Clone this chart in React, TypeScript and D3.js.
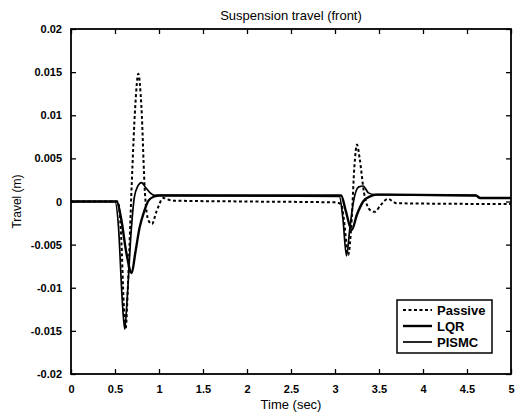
import { useEffect, useRef } from "react";
import * as d3 from "d3";

// time (sec) / travel (m) pairs
const passiveT = [0, 0.53, 0.57, 0.6, 0.62, 0.65, 0.69, 0.73, 0.765, 0.8, 0.84, 0.88, 0.92, 0.97, 1.05, 1.15, 2.0, 3.0, 3.07, 3.1, 3.15, 3.19, 3.22, 3.25, 3.28, 3.33, 3.4, 3.45, 3.52, 3.6, 3.7, 5];
const passiveV = [0, 0, -0.004, -0.012, -0.0148, -0.009, 0.002, 0.011, 0.0148, 0.011, 0.001, -0.0022, -0.0026, -0.0012, 0.0004, 0.0001, 0, -0.0001, -0.0003, -0.002, -0.0062, -0.002, 0.004, 0.0066, 0.005, 0.001, -0.001, -0.0012, -0.0004, 0.0003, -0.0002, -0.0003];

const lqrT = [0, 0.52, 0.57, 0.63, 0.69, 0.73, 0.78, 0.83, 0.88, 0.95, 1.0, 3.07, 3.12, 3.19, 3.25, 3.32, 3.4, 3.47, 4.6, 4.65, 5];
const lqrV = [0, 0, -0.002, -0.006, -0.0083, -0.006, -0.003, -0.0012, 0.0001, 0.0006, 0.0007, 0.0007, -0.001, -0.0033, -0.0015, 0, 0.0006, 0.0008, 0.0007, 0.0004, 0.0004];

const pismcT = [0, 0.5, 0.54, 0.58, 0.61, 0.64, 0.68, 0.72, 0.76, 0.8, 0.85, 0.9, 0.95, 1.1, 3.05, 3.09, 3.13, 3.17, 3.21, 3.27, 3.32, 3.38, 3.45, 4.6, 4.65, 5];
const pismcV = [0, 0, -0.003, -0.011, -0.0148, -0.011, -0.004, 0.0005, 0.0018, 0.0022, 0.0016, 0.001, 0.0007, 0.0007, 0.0006, -0.002, -0.0063, -0.003, 0, 0.0017, 0.0018, 0.001, 0.0008, 0.0007, 0.0004, 0.0004];

const xTicks = [0, 0.5, 1, 1.5, 2, 2.5, 3, 3.5, 4, 4.5, 5];
const yTicks = [-0.02, -0.015, -0.01, -0.005, 0, 0.005, 0.01, 0.015, 0.02];
const legendNames = ["Passive", "LQR", "PISMC"];

const App = () => {
  const svgRef = useRef<SVGSVGElement>(null);

  useEffect(() => {
    const width = 521;
    const height = 417;
    const margin = { top: 29, right: 10, bottom: 43, left: 71 };
    const innerWidth = width - margin.left - margin.right;
    const innerHeight = height - margin.top - margin.bottom;
    const font = "'Liberation Sans', Arial, sans-serif";

    d3.select(svgRef.current).selectAll("*").remove();
    const svg = d3.select(svgRef.current).attr("width", width).attr("height", height);

    svg.append("rect").attr("width", width).attr("height", height).attr("fill", "white");

    const g = svg.append("g").attr("transform", `translate(${margin.left},${margin.top})`);

    const x = d3.scaleLinear().domain([0, 5]).range([0, innerWidth]);
    const y = d3.scaleLinear().domain([-0.02, 0.02]).range([innerHeight, 0]);

    // box with inward ticks on all sides
    const tickStyle = (sel: any) => {
      sel.select(".domain").remove();
      sel.selectAll("line").attr("stroke", "black").attr("stroke-width", 1.3);
      sel.selectAll("text")
        .style("font-family", font)
        .style("font-size", "11px")
        .style("font-weight", "bold")
        .attr("fill", "black");
    };

    g.append("g")
      .attr("transform", `translate(0,${innerHeight})`)
      .call(d3.axisBottom(x).tickValues(xTicks).tickSizeInner(-5).tickSizeOuter(0).tickPadding(11).tickFormat((d: any) => String(d)))
      .call(tickStyle);
    g.append("g")
      .call(d3.axisTop(x).tickValues(xTicks).tickSizeInner(-5).tickSizeOuter(0).tickFormat(() => ""))
      .call(tickStyle);
    g.append("g")
      .call(d3.axisLeft(y).tickValues(yTicks).tickSizeInner(-5).tickSizeOuter(0).tickPadding(9).tickFormat((d: any) => String(d)))
      .call(tickStyle);
    g.append("g")
      .attr("transform", `translate(${innerWidth},0)`)
      .call(d3.axisRight(y).tickValues(yTicks).tickSizeInner(-5).tickSizeOuter(0).tickFormat(() => ""))
      .call(tickStyle);

    g.append("rect")
      .attr("width", innerWidth)
      .attr("height", innerHeight)
      .attr("fill", "none")
      .attr("stroke", "black")
      .attr("stroke-width", 1.8);

    const line = d3
      .line<[number, number]>()
      .x((d) => x(d[0]))
      .y((d) => y(d[1]))
      .curve(d3.curveMonotoneX);

    const series = [
      { t: passiveT, v: passiveV, width: 2, dash: "3,2.5" },
      { t: lqrT, v: lqrV, width: 2.4, dash: null },
      { t: pismcT, v: pismcV, width: 1.7, dash: null },
    ];

    series.forEach((s) => {
      const pts = s.t.map((t, i) => [t, s.v[i]] as [number, number]);
      g.append("path")
        .datum(pts)
        .attr("d", line)
        .attr("fill", "none")
        .attr("stroke", "black")
        .attr("stroke-width", s.width)
        .attr("stroke-dasharray", s.dash);
    });

    // legend
    const lg = svg.append("g").attr("transform", "translate(397,300)");
    lg.append("rect")
      .attr("width", 95)
      .attr("height", 53)
      .attr("fill", "white")
      .attr("stroke", "black")
      .attr("stroke-width", 1.5);
    legendNames.forEach((name, i) => {
      const yy = 10 + i * 16;
      lg.append("line")
        .attr("x1", 6)
        .attr("x2", 35)
        .attr("y1", yy)
        .attr("y2", yy)
        .attr("stroke", "black")
        .attr("stroke-width", series[i].width)
        .attr("stroke-dasharray", series[i].dash);
      lg.append("text")
        .attr("x", 40)
        .attr("y", yy + 5)
        .style("font-family", font)
        .style("font-size", "13px")
        .style("font-weight", "bold")
        .text(name);
    });

    // titles
    svg.append("text")
      .attr("x", margin.left + innerWidth / 2)
      .attr("y", 20)
      .attr("text-anchor", "middle")
      .style("font-family", font)
      .style("font-size", "13px")
      .text("Suspension travel  (front)");

    svg.append("text")
      .attr("x", margin.left + innerWidth / 2)
      .attr("y", 409)
      .attr("text-anchor", "middle")
      .style("font-family", font)
      .style("font-size", "13px")
      .text("Time  (sec)");

    svg.append("text")
      .attr("transform", `translate(21,${margin.top + innerHeight / 2}) rotate(-90)`)
      .attr("text-anchor", "middle")
      .style("font-family", font)
      .style("font-size", "12px")
      .text("Travel  (m)");
  }, []);

  return <svg ref={svgRef} style={{ position: "absolute", left: 0, top: 0 }}></svg>;
};

export default App;
